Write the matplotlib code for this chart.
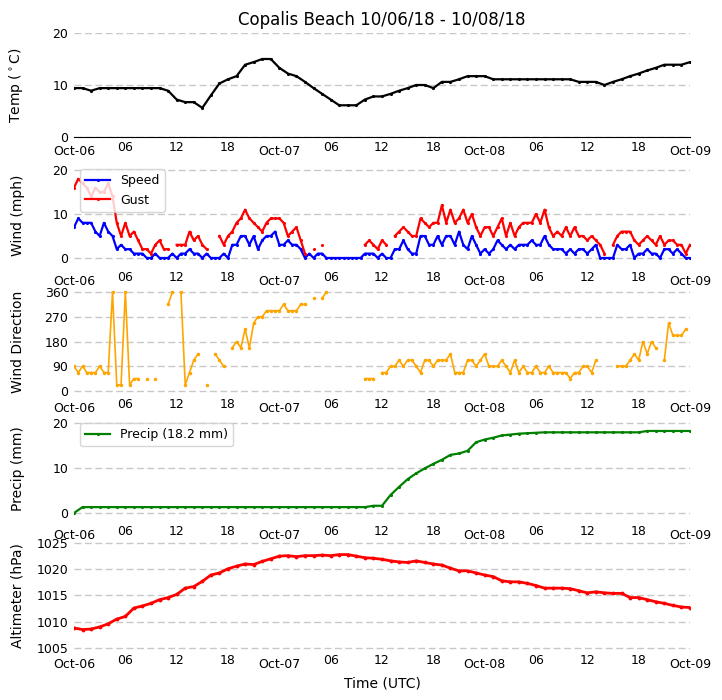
import numpy as np
import pandas as pd
import matplotlib
matplotlib.use("Agg")
import matplotlib.pyplot as plt
import matplotlib.dates as mdates

nan = np.nan

# hourly samples, Oct-06 00 UTC .. Oct-09 00 UTC
temp_c = [9.4, 9.4, 8.9, 9.4, 9.4, 9.4, 9.4, 9.4, 9.4, 9.4,
          9.4, 8.9, 7.2, 6.7, 6.7, 5.6, 8.0, 10.3, 11.1, 11.7,
          13.9, 14.4, 15.0, 15.0, 13.3, 12.2, 11.7, 10.6, 9.4, 8.3,
          7.2, 6.1, 6.1, 6.1, 7.2, 7.8, 7.8, 8.3, 8.9, 9.4,
          10.0, 10.0, 9.4, 10.6, 10.6, 11.1, 11.7, 11.7, 11.7, 11.1,
          11.1, 11.1, 11.1, 11.1, 11.1, 11.1, 11.1, 11.1, 11.1, 10.6,
          10.6, 10.6, 10.0, 10.6, 11.1, 11.7, 12.2, 12.8, 13.3, 13.9,
          13.9, 13.9, 14.4]

precip_mm = [0.0, 1.3, 1.3, 1.3, 1.3, 1.3, 1.3, 1.3, 1.3, 1.3,
             1.3, 1.3, 1.3, 1.3, 1.3, 1.3, 1.3, 1.3, 1.3, 1.3,
             1.3, 1.3, 1.3, 1.3, 1.3, 1.3, 1.3, 1.3, 1.3, 1.3,
             1.3, 1.3, 1.3, 1.3, 1.3, 1.6, 1.6, 4.0, 5.8, 7.5,
             8.8, 9.9, 10.9, 11.8, 12.9, 13.2, 13.8, 15.7, 16.3, 16.7,
             17.2, 17.4, 17.6, 17.7, 17.8, 17.9, 17.9, 17.9, 17.9, 17.9,
             17.9, 17.9, 17.9, 17.9, 17.9, 17.9, 17.9, 18.2, 18.2, 18.2,
             18.2, 18.2, 18.2]

altim_hpa = [1008.8, 1008.5, 1008.6, 1009.0, 1009.6, 1010.5, 1011.0, 1012.6, 1013.0, 1013.5,
             1014.2, 1014.6, 1015.2, 1016.4, 1016.7, 1017.7, 1018.9, 1019.3, 1020.1, 1020.6,
             1021.0, 1020.9, 1021.5, 1022.0, 1022.5, 1022.6, 1022.4, 1022.6, 1022.6, 1022.7,
             1022.6, 1022.8, 1022.8, 1022.5, 1022.2, 1022.1, 1021.9, 1021.6, 1021.4, 1021.3,
             1021.6, 1021.3, 1021.0, 1020.8, 1020.2, 1019.7, 1019.7, 1019.3, 1018.9, 1018.6,
             1017.8, 1017.6, 1017.6, 1017.3, 1016.9, 1016.4, 1016.4, 1016.4, 1016.3, 1015.9,
             1015.5, 1015.7, 1015.5, 1015.4, 1015.4, 1014.6, 1014.6, 1014.2, 1013.8, 1013.5,
             1013.1, 1012.8, 1012.7]

# half-hourly wind samples
speed_mph = [7, 9, 8, 8, 8, 6, 5, 8, 6, 5,
             2, 3, 2, 2, 1, 1, 1, 0, 0, 1,
             0, 0, 0, 1, 0, 1, 1, 2, 1, 1,
             0, 1, 0, 0, 0, 1, 0, 3, 3, 5,
             5, 3, 5, 2, 4, 5, 5, 6, 3, 3,
             4, 3, 3, 2, 0, 1, 0, 1, 1, 0,
             0, 0, 0, 0, 0, 0, 0, 0, 1, 1,
             1, 0, 1, 0, 0, 2, 2, 4, 2, 1,
             1, 5, 5, 3, 3, 5, 3, 5, 5, 3,
             6, 3, 2, 5, 3, 1, 2, 1, 2, 4,
             3, 2, 3, 2, 3, 3, 3, 4, 3, 3,
             5, 3, 2, 2, 2, 1, 2, 1, 2, 2,
             1, 2, 3, 0, 0, 0, 0, 3, 2, 2,
             3, 0, 1, 1, 2, 1, 1, 0, 2, 2,
             1, 2, 1, 0, 0]

gust_mph = [16, 18, 17, 16, 14, 16, 15, 15, 17, 14,
            8, 5, 8, 5, 6, 4, 2, 2, 1, 3,
            4, 2, 2, nan, 3, 3, 3, 6, 4, 5,
            3, 2, nan, nan, 5, 3, 5, 6, 8, 9,
            11, 9, 8, 7, 6, 8, 9, 9, 9, 8,
            5, 6, 7, 4, 1, nan, 2, nan, 3, nan,
            nan, nan, nan, nan, nan, nan, nan, nan, 3, 4,
            3, 2, 4, 3, nan, 5, 6, 7, 6, 5,
            5, 9, 8, 7, 8, 8, 12, 8, 11, 8,
            9, 11, 8, 10, 7, 5, 7, 7, 5, 7,
            9, 5, 8, 5, 7, 8, 8, 8, 10, 8,
            11, 7, 5, 6, 5, 7, 5, 7, 5, 5,
            4, 5, 4, 3, 1, nan, 3, 5, 6, 6,
            6, 4, 3, 4, 5, 4, 3, 5, 3, 4,
            4, 3, 3, 1, 3]

wind_dir = [90, 67, 90, 67, 67, 67, 90, 67, 67, 360,
            22, 22, 360, 22, 45, 45, nan, 45, nan, 45,
            nan, nan, 315, 360, nan, 360, 22, 67, 112, 135,
            nan, 22, nan, 135, 112, 90, nan, 157, 180, 157,
            225, 157, 247, 270, 270, 292, 292, 292, 292, 315,
            292, 292, 292, 315, 315, nan, 337, nan, 337, 360,
            nan, nan, nan, nan, nan, nan, nan, nan, 45, 45,
            45, nan, 67, 67, 90, 90, 112, 90, 112, 112,
            90, 67, 112, 112, 90, 112, 112, 112, 135, 67,
            67, 67, 112, 112, 90, 112, 135, 90, 90, 90,
            112, 90, 67, 112, 67, 90, 67, 67, 90, 67,
            67, 90, 67, 67, 67, 67, 45, 67, 67, 90,
            90, 67, 112, nan, nan, nan, nan, 90, 90, 90,
            112, 135, 112, 180, 135, 180, 157, nan, 112, 247,
            202, 202, 202, 225, nan]

t_hour = pd.date_range("2018-10-06 00:00", "2018-10-09 00:00", freq="1h")
t_half = pd.date_range("2018-10-06 00:00", "2018-10-09 00:00", freq="30min")

fig = plt.figure(figsize=(7.22, 7.0), dpi=100)
W, H = 722.0, 700.0


def add_panel(top, bottom):
    return fig.add_axes([74 / W, 1 - bottom / H, 616 / W, (bottom - top) / H])


ax_t = add_panel(33, 137)
ax_w = add_panel(163, 267)
ax_d = add_panel(290, 394)
ax_p = add_panel(417, 521)
ax_a = add_panel(542, 650)
axes = [ax_t, ax_w, ax_d, ax_p, ax_a]

ax_t.plot(t_hour, temp_c, color="black", lw=1.6, marker=".", ms=2.5)
ax_w.plot(t_half, speed_mph, color="blue", lw=1.6, marker=".", ms=2.5, label="Speed")
ax_w.plot(t_half, gust_mph, color="red", lw=1.6, marker=".", ms=2.5, label="Gust")
ax_d.plot(t_half, wind_dir, color="orange", lw=1.2, marker=".", ms=3)
ax_p.plot(t_hour, precip_mm, color="green", lw=1.6, marker=".", ms=2.5,
          label="Precip (%.1f mm)" % precip_mm[-1])
ax_a.plot(t_hour, altim_hpa, color="red", lw=2, marker=".", ms=3.5)

ax_t.set_ylim(0, 20)
ax_t.set_yticks([0, 10, 20])
ax_w.set_ylim(-2.05, 21.6)
ax_w.set_yticks([0, 10, 20])
ax_d.set_ylim(-10.9, 367.3)
ax_d.set_yticks([0, 90, 180, 270, 360])
ax_p.set_ylim(-1.78, 21.3)
ax_p.set_yticks([0, 10, 20])
ax_a.set_ylim(1004.6, 1025.2)
ax_a.set_yticks([1005, 1010, 1015, 1020, 1025])

ax_t.set_ylabel("Temp ($^\\circ$C)", fontsize=10)
ax_w.set_ylabel("Wind (mph)", fontsize=10)
ax_d.set_ylabel("Wind Direction", fontsize=10)
ax_p.set_ylabel("Precip (mm)", fontsize=10)
ax_a.set_ylabel("Altimeter (hPa)", fontsize=10)
ax_a.set_xlabel("Time (UTC)", fontsize=10)
ax_t.set_title("Copalis Beach 10/06/18 - 10/08/18", fontsize=12)

for ax in axes:
    ax.set_xlim(t_hour[0], t_hour[-1])
    ax.xaxis.set_major_locator(mdates.DayLocator())
    ax.xaxis.set_major_formatter(mdates.DateFormatter("%b-%d"))
    ax.xaxis.set_minor_locator(mdates.HourLocator(byhour=[6, 12, 18]))
    ax.xaxis.set_minor_formatter(mdates.DateFormatter("%H"))
    ax.tick_params(axis="both", which="both", length=0, labelsize=9)
    ax.tick_params(axis="x", which="major", pad=6)
    ax.tick_params(axis="x", which="minor", pad=3)
    ax.tick_params(axis="y", pad=4)
    for s in ax.spines.values():
        s.set_visible(False)
    ax.yaxis.grid(True, color="#c8c8c8", linestyle=(0, (5, 2.5)), lw=1.0)
    ax.set_axisbelow(True)
    ax.yaxis.set_label_coords(-0.08, 0.5)

ax_t.spines["bottom"].set_visible(True)
ax_t.spines["bottom"].set_color("black")

ax_w.legend(loc="upper left", fontsize=9, framealpha=0.8)
ax_p.legend(loc="upper left", fontsize=9, framealpha=0.8)

fig.savefig("out.png", dpi=100)
